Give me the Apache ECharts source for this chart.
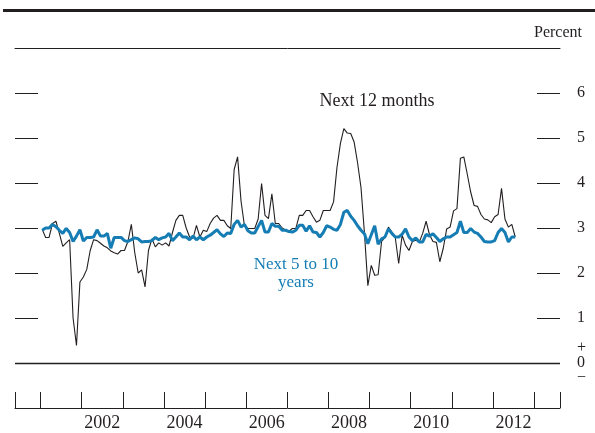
<!DOCTYPE html>
<html>
<head>
<meta charset="utf-8">
<script src="https://cdn.jsdelivr.net/npm/echarts@6/dist/echarts.min.js"></script>
<style>
html,body{margin:0;padding:0;background:#fff;}
#chart{width:595px;height:433px;}
</style>
</head>
<body>
<div id="chart"></div>
<script>
// Monthly data, starting January 2001
var startYear = 2001;
var next12Months = [
  2.97, 2.79, 2.79, 3.10, 3.15, 2.88, 2.59, 2.67, 2.74, 1.00, 0.39, 1.80,
  1.91, 2.08, 2.50, 2.74, 2.72, 2.66, 2.60, 2.56, 2.49, 2.45, 2.42, 2.50,
  2.50, 2.70, 3.08, 2.45, 2.00, 2.07, 1.69, 2.50, 2.76, 2.58, 2.67, 2.62,
  2.67, 2.60, 2.90, 3.17, 3.28, 3.28, 3.00, 2.80, 2.77, 3.06, 2.80, 2.95,
  2.92, 3.10, 3.22, 3.28, 3.17, 3.17, 3.05, 2.99, 4.30, 4.58, 3.60, 3.05,
  2.99, 2.99, 2.99, 3.20, 3.99, 3.28, 3.21, 3.76, 3.10, 3.10, 3.00, 2.95,
  2.93, 2.99, 2.99, 3.28, 3.28, 3.39, 3.39, 3.25, 3.13, 3.17, 3.39, 3.39,
  3.39, 3.58, 4.35, 4.88, 5.21, 5.11, 5.10, 4.91, 4.45, 3.90, 2.90, 1.72,
  2.17, 1.95, 1.96, 2.70, 2.79, 3.02, 2.91, 2.79, 2.21, 2.84, 2.62, 2.50,
  2.70, 2.73, 2.69, 2.88, 3.15, 2.85, 2.70, 2.68, 2.25, 2.55, 2.98, 3.02,
  3.38, 3.43, 4.55, 4.58, 4.20, 3.80, 3.50, 3.48, 3.30, 3.20, 3.18, 3.12,
  3.25, 3.30, 3.88, 3.20, 3.02, 3.08, 2.80
];
var next5to10Years = [
  2.95, 3.00, 3.00, 3.08, 3.03, 2.95, 2.88, 2.99, 2.90, 2.70, 2.82, 2.96,
  2.71, 2.79, 2.79, 2.80, 2.96, 2.82, 2.82, 2.88, 2.55, 2.79, 2.79, 2.79,
  2.72, 2.70, 2.74, 2.78, 2.76, 2.69, 2.70, 2.70, 2.72, 2.79, 2.74, 2.78,
  2.80, 2.88, 2.72, 2.80, 2.89, 2.80, 2.80, 2.74, 2.82, 2.74, 2.80, 2.74,
  2.80, 2.84, 2.90, 2.96, 2.87, 2.81, 2.89, 2.88, 3.08, 3.17, 3.02, 3.08,
  2.94, 2.89, 2.89, 3.03, 3.17, 2.91, 2.91, 3.10, 3.04, 3.04, 2.95, 2.95,
  2.92, 2.91, 2.95, 3.06, 3.06, 2.93, 3.05, 2.91, 2.90, 2.80, 2.90, 3.05,
  3.02, 2.97, 2.95, 3.08, 3.35, 3.39, 3.26, 3.17, 3.05, 2.95, 2.87, 2.65,
  2.85, 3.05, 2.64, 2.76, 2.80, 2.98, 2.88, 2.80, 2.80, 2.86, 2.98, 2.80,
  2.72, 2.78, 2.69, 2.69, 2.86, 2.82, 2.87, 2.79, 2.70, 2.76, 2.80, 2.80,
  2.85, 2.90, 3.15, 2.90, 2.90, 2.99, 2.91, 2.88, 2.80, 2.70, 2.69, 2.69,
  2.72, 2.90, 2.99, 2.90, 2.69, 2.80, 2.80
];
var yTickValues = [0, 1, 2, 3, 4, 5, 6];
var yearTicks = [2001, 2002, 2003, 2004, 2005, 2006, 2007, 2008, 2009, 2010, 2011, 2012, 2013];
var yearLabels = [2002, 2004, 2006, 2008, 2010, 2012];
var xMin = 2000.38, xMax = 2013.63;

function toPairs(arr) {
  return arr.map(function (v, i) { return [startYear + (i + 0.5) / 12, v]; });
}

var serif = 'Liberation Serif';
var ink = '#231f20';
var blue = '#157db4';

var chart = echarts.init(document.getElementById('chart'), null, {renderer: 'canvas'});
chart.setOption({
  animation: false,
  backgroundColor: '#fff',
  grid: {left: 15, right: 35, top: 48, bottom: 25, containLabel: false},
  xAxis: [{
    type: 'value', min: xMin, max: xMax, position: 'bottom',
    axisLine: {show: true, onZero: false, lineStyle: {color: ink, width: 1}},
    axisTick: {show: true, inside: true, length: 16, lineStyle: {color: ink, width: 1},
      customValues: [xMin].concat(yearTicks).concat([xMax])},
    axisLabel: {show: true, margin: 6, color: ink, fontFamily: serif, fontSize: 18,
      customValues: yearLabels.map(function (y) { return y + 0.5; }),
      formatter: function (v) { return String(Math.floor(v)); }},
    splitLine: {show: false}
  }, {
    type: 'value', min: xMin, max: xMax, position: 'top',
    axisLine: {show: true, onZero: false, lineStyle: {color: ink, width: 1}},
    axisTick: {show: false}, axisLabel: {show: false}, splitLine: {show: false}
  }],
  yAxis: [{
    type: 'value', min: -1, max: 7, position: 'left',
    axisLine: {show: false},
    axisTick: {show: true, inside: true, length: 23, lineStyle: {color: ink, width: 1}, customValues: yTickValues},
    axisLabel: {show: false},
    splitLine: {show: false}
  }, {
    type: 'value', min: -1, max: 7, position: 'right',
    axisLine: {show: false},
    axisTick: {show: true, inside: true, length: 23, lineStyle: {color: ink, width: 1}, customValues: yTickValues},
    axisLabel: {show: true, margin: 17, color: ink, fontFamily: serif, fontSize: 16, lineHeight: 15,
      customValues: yTickValues,
      formatter: function (v) { return v === 0 ? '+\n0\n\u2212' : String(v); }},
    splitLine: {show: false}
  }],
  title: {
    text: 'Percent', right: 8, top: 20,
    textStyle: {fontFamily: serif, fontSize: 16, fontWeight: 'normal', color: ink}
  },
  graphic: [
    {type: 'rect', shape: {x: 3, y: 9, width: 592, height: 3}, style: {fill: ink}, silent: true},
    {type: 'text', x: 377, y: 101, style: {text: 'Next 12 months', fill: ink, font: '18px "Liberation Serif"', align: 'center', verticalAlign: 'middle'}},
    {type: 'text', x: 296, y: 274, style: {text: 'Next 5 to 10\nyears', fill: blue, font: '17px "Liberation Serif"', align: 'center', verticalAlign: 'middle', lineHeight: 18}}
  ],
  series: [{
    name: 'Next 12 months', type: 'line', xAxisIndex: 0, yAxisIndex: 0,
    data: toPairs(next12Months), showSymbol: false, symbol: 'none',
    lineStyle: {color: ink, width: 1.1}, z: 2,
    markLine: {silent: true, symbol: 'none', label: {show: false},
      lineStyle: {color: ink, width: 1.3, type: 'solid'}, data: [{yAxis: 0}]}
  }, {
    name: 'Next 5 to 10 years', type: 'line', xAxisIndex: 0, yAxisIndex: 0,
    data: toPairs(next5to10Years), showSymbol: false, symbol: 'none',
    lineStyle: {color: blue, width: 3}, z: 3
  }]
});
</script>
</body>
</html>
